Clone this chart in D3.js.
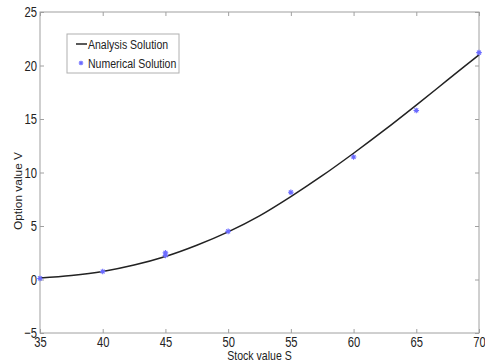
<!DOCTYPE html>
<html><head><meta charset="utf-8">
<script src="https://cdn.jsdelivr.net/npm/d3@7"></script>
<style>
body{margin:0;background:#fff;}
text{font-family:"Liberation Sans",Arial,sans-serif;fill:#222;}
</style></head>
<body><svg id="c" width="485" height="363"></svg>
<script>
// Analytical curve samples (S, V)
const curveS = [35, 37.5, 40, 42.5, 45, 47.5, 50, 52.5, 55, 57.5, 60, 62.5, 65, 67.5, 70];
const curveV = [0.15, 0.38, 0.75, 1.35, 2.15, 3.2, 4.45, 5.95, 7.75, 9.7, 11.8, 14.0, 16.3, 18.65, 21.0];
// Numerical solution points
const numS = [35, 40, 45, 45, 50, 55, 60, 65, 70];
const numV = [0.1, 0.75, 2.25, 2.5, 4.5, 8.15, 11.45, 15.8, 21.2];
const xTicks = [35, 40, 45, 50, 55, 60, 65, 70];
const yTicks = [-5, 0, 5, 10, 15, 20, 25];
const legendLabels = ["Analysis Solution", "Numerical Solution"];

const svg = d3.select("#c");
const L = 40, R = 479, T = 12, B = 333;
const SX = 0.75; // horizontal text squeeze
const x = d3.scaleLinear().domain([35, 70]).range([L, R]);
const y = d3.scaleLinear().domain([-5, 25]).range([B, T]);
const axisCol = "#a0a0a0";

svg.append("rect").attr("x", L).attr("y", T).attr("width", R - L).attr("height", B - T)
  .attr("fill", "none").attr("stroke", axisCol).attr("stroke-width", 1);

function styleAxis(g) {
  g.select(".domain").remove();
  g.selectAll(".tick line").attr("stroke", axisCol);
  g.selectAll(".tick text").attr("font-size", 15).attr("fill", "#222").style("font-family", null);
}
svg.append("g").attr("transform", `translate(0,${B})`)
  .call(d3.axisBottom(x).tickValues(xTicks).tickSize(-4).tickFormat(d3.format("d")))
  .call(styleAxis)
  .call(g => g.selectAll(".tick text").attr("font-size", 14).attr("y", 14).attr("dy", 0).attr("transform", `scale(0.8,1)`));
svg.append("g").attr("transform", `translate(0,${T})`)
  .call(d3.axisTop(x).tickValues(xTicks).tickSize(-4).tickFormat(""))
  .call(styleAxis);
svg.append("g").attr("transform", `translate(${L},0)`)
  .call(d3.axisLeft(y).tickValues(yTicks).tickSize(-4).tickFormat(d3.format("d")))
  .call(styleAxis)
  .call(g => g.selectAll(".tick text").attr("x", -4).attr("transform", `scale(${SX},1)`));
svg.append("g").attr("transform", `translate(${R},0)`)
  .call(d3.axisRight(y).tickValues(yTicks).tickSize(-4).tickFormat(""))
  .call(styleAxis);

// curve
const curveData = curveS.map((s, i) => [s, curveV[i]]);
svg.append("path").datum(curveData)
  .attr("fill", "none").attr("stroke", "#222").attr("stroke-width", 1.5)
  .attr("d", d3.line().x(d => x(d[0])).y(d => y(d[1])).curve(d3.curveMonotoneX));

// asterisk markers
function star(g, cx, cy, r) {
  const p = [];
  p.push(`M${cx - r},${cy}L${cx + r},${cy}`);
  p.push(`M${cx},${cy - r}L${cx},${cy + r}`);
  const d = r * 0.7;
  p.push(`M${cx - d},${cy - d}L${cx + d},${cy + d}`);
  p.push(`M${cx - d},${cy + d}L${cx + d},${cy - d}`);
  g.append("path").attr("d", p.join("")).attr("stroke", "#6b6bff").attr("stroke-width", 1.1).attr("fill", "none");
}
const pts = svg.append("g");
numS.forEach((s, i) => star(pts, x(s), y(numV[i]), 2.8));

// legend
const lg = svg.append("g");
lg.append("rect").attr("x", 67).attr("y", 34).attr("width", 112).attr("height", 39)
  .attr("fill", "#fff").attr("stroke", "#b0b0b0");
lg.append("line").attr("x1", 76).attr("x2", 87).attr("y1", 44).attr("y2", 44).attr("stroke", "#222").attr("stroke-width", 1.5);
star(lg, 81, 63, 2.3);
legendLabels.forEach((t, i) => lg.append("g").attr("transform", `translate(88,${44 + i * 19}) scale(0.78,1)`)
  .append("text").attr("dy", "0.35em").attr("font-size", 13.5).text(t));

// axis labels
svg.append("g").attr("transform", `translate(${(L + R) / 2},360.3) scale(0.88,1)`)
  .append("text").attr("text-anchor", "middle").attr("font-size", 12).text("Stock value S");
svg.append("g").attr("transform", "translate(18,191) rotate(-90) scale(0.85,0.8)")
  .append("text").attr("text-anchor", "middle").attr("dy", "0.35em").attr("font-size", 14).text("Option value V");
</script></body></html>
